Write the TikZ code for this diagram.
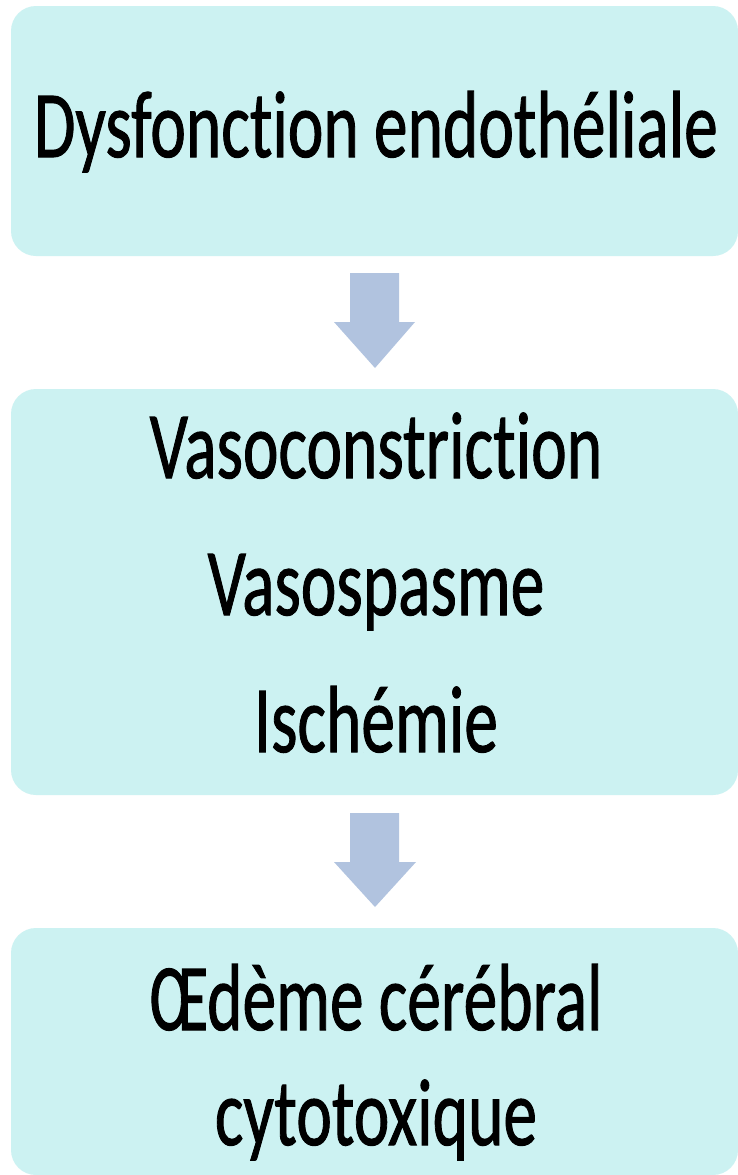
\documentclass[tikz,border=0pt]{standalone}
\usepackage{fontspec}
\setmainfont[RawFeature=-liga,FakeBold=1.2]{Carlito}
\definecolor{boxfill}{HTML}{CCF2F2}
\definecolor{arrowfill}{HTML}{B1C3DF}
\newcommand{\narrowtext}[1]{\scalebox{0.71}[1]{#1}}
\begin{document}
\begin{tikzpicture}[x=1pt,y=-1pt,
  box/.style={fill=boxfill,rounded corners=25pt},
  txt/.style={anchor=base,inner sep=0pt,font=\fontsize{95}{110}\selectfont},
  blockarrow/.style={fill=arrowfill}]
\useasboundingbox (0,0) rectangle (738,1175);
\fill[white] (0,0) rectangle (738,1175);
\fill[box] (11,6) rectangle (738,256);
\fill[box] (11,389) rectangle (738,795);
\fill[box] (11,928) rectangle (738,1175);
\node[txt] (t1) at (376,157) {\narrowtext{Dysfonction endothéliale}};
\node[txt] (t2) at (376,478) {\narrowtext{Vasoconstriction}};
\node[txt] (t3) at (376,615) {\narrowtext{Vasospasme}};
\node[txt] (t4) at (376,752) {\narrowtext{Ischémie}};
\node[txt] (t5) at (376,1030) {\narrowtext{Œdème cérébral}};
\node[txt] (t6) at (376,1145) {\narrowtext{cytotoxique}};
\fill[blockarrow] (350,273) -- (399,273) -- (399,322) -- (415,322) -- (375,368) -- (334,322) -- (350,322) -- cycle;
\fill[blockarrow] (350,813) -- (399,813) -- (399,862) -- (416,862) -- (375,907) -- (334,862) -- (350,862) -- cycle;
\end{tikzpicture}
\end{document}
